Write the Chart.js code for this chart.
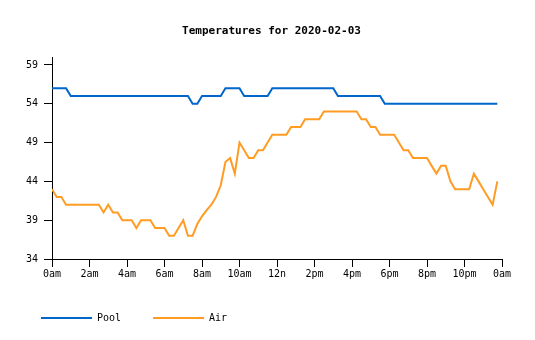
<!DOCTYPE html>
<html>
<head>
<meta charset="utf-8">
<script src="https://cdn.jsdelivr.net/npm/chart.js@4.4.0/dist/chart.umd.min.js"></script>
<style>
    html, body { margin: 0; padding: 0; background: #fff; }
    #wrap { width: 535px; height: 340px; }
</style>
</head>
<body>
<div id="wrap"><canvas id="tempChart" width="535" height="340"></canvas></div>
<script>
// One reading every 15 minutes, starting at midnight
const stepHours = 0.25;

const poolTemps = [
    56, 56, 56, 56, 55, 55, 55, 55,
    55, 55, 55, 55, 55, 55, 55, 55,
    55, 55, 55, 55, 55, 55, 55, 55,
    55, 55, 55, 55, 55, 55, 54, 54,
    55, 55, 55, 55, 55, 56, 56, 56,
    56, 55, 55, 55, 55, 55, 55, 56,
    56, 56, 56, 56, 56, 56, 56, 56,
    56, 56, 56, 56, 56, 55, 55, 55,
    55, 55, 55, 55, 55, 55, 55, 54,
    54, 54, 54, 54, 54, 54, 54, 54,
    54, 54, 54, 54, 54, 54, 54, 54,
    54, 54, 54, 54, 54, 54, 54, 54
];

const airTemps = [
    43, 42, 42, 41, 41, 41, 41, 41,
    41, 41, 41, 40, 41, 40, 40, 39,
    39, 39, 38, 39, 39, 39, 38, 38,
    38, 37, 37, 38, 39, 37, 37, 38.5,
    39.5, 40.3, 41, 42, 43.5, 46.5, 47, 45,
    49, 48, 47, 47, 48, 48, 49, 50,
    50, 50, 50, 51, 51, 51, 52, 52,
    52, 52, 53, 53, 53, 53, 53, 53,
    53, 53, 52, 52, 51, 51, 50, 50,
    50, 50, 49, 48, 48, 47, 47, 47,
    47, 46, 45, 46, 46, 44, 43, 43,
    43, 43, 45, 44, 43, 42, 41, 44
];

const xTickLabels = ['0am', '2am', '4am', '6am', '8am', '10am', '12n', '2pm', '4pm', '6pm', '8pm', '10pm', '0am'];
const yTicks = [34, 39, 44, 49, 54, 59];

const FONT = '"DejaVu Sans Mono", "Liberation Mono", monospace';

function toPoints(values) {
    return values.map((v, i) => ({ x: i * stepHours, y: v }));
}

// Center the title on the whole canvas instead of the padded box
const centerTitle = {
    id: 'centerTitle',
    afterLayout(chart) {
        if (chart.titleBlock) {
            chart.titleBlock.left = 8;
            chart.titleBlock.right = chart.width;
        }
    }
};

const ctx = document.getElementById('tempChart').getContext('2d');
const tempChart = new Chart(ctx, {
    type: 'line',
    data: {
        datasets: [{
            label: 'Pool',
            data: toPoints(poolTemps),
            borderColor: '#0066cc',
            backgroundColor: '#0066cc',
            borderWidth: 2,
            pointRadius: 0,
            tension: 0
        }, {
            label: 'Air',
            data: toPoints(airTemps),
            borderColor: '#ff9c24',
            backgroundColor: '#ff9c24',
            borderWidth: 2,
            pointRadius: 0,
            tension: 0
        }]
    },
    options: {
        responsive: false,
        animation: false,
        layout: {
            padding: { left: 9, right: 33, top: 0, bottom: 7 }
        },
        scales: {
            x: {
                type: 'linear',
                min: 0,
                max: 24,
                afterBuildTicks: (scale) => {
                    scale.ticks = xTickLabels.map((_, i) => ({ value: i * 2 }));
                },
                ticks: {
                    autoSkip: false,
                    maxRotation: 0,
                    padding: 1,
                    color: '#000',
                    font: { family: FONT, size: 10 },
                    callback: (value, index) => xTickLabels[index]
                },
                grid: {
                    drawOnChartArea: false,
                    tickLength: 8,
                    color: '#000'
                },
                border: { color: '#000' }
            },
            y: {
                min: 34,
                max: 60,
                afterBuildTicks: (scale) => {
                    scale.ticks = yTicks.map(v => ({ value: v }));
                },
                afterFit: (scale) => {
                    scale.width = 43;
                },
                ticks: {
                    padding: 6,
                    color: '#000',
                    font: { family: FONT, size: 10 }
                },
                grid: {
                    drawOnChartArea: false,
                    tickLength: 8,
                    color: '#000'
                },
                border: { color: '#000' }
            }
        },
        plugins: {
            title: {
                display: true,
                text: 'Temperatures for 2020-02-03',
                color: '#000',
                font: { family: FONT, size: 11, weight: 'bold' },
                padding: { top: 25, bottom: 19 }
            },
            legend: {
                position: 'bottom',
                align: 'start',
                labels: {
                    boxWidth: 51,
                    boxHeight: 2,
                    padding: 32,
                    color: '#000',
                    font: { family: FONT, size: 10 },
                    generateLabels: (chart) => Chart.defaults.plugins.legend.labels.generateLabels(chart)
                        .map(item => Object.assign(item, { lineWidth: 0 }))
                }
            },
            tooltip: { enabled: false }
        }
    },
    plugins: [centerTitle]
});
</script>
</body>
</html>
